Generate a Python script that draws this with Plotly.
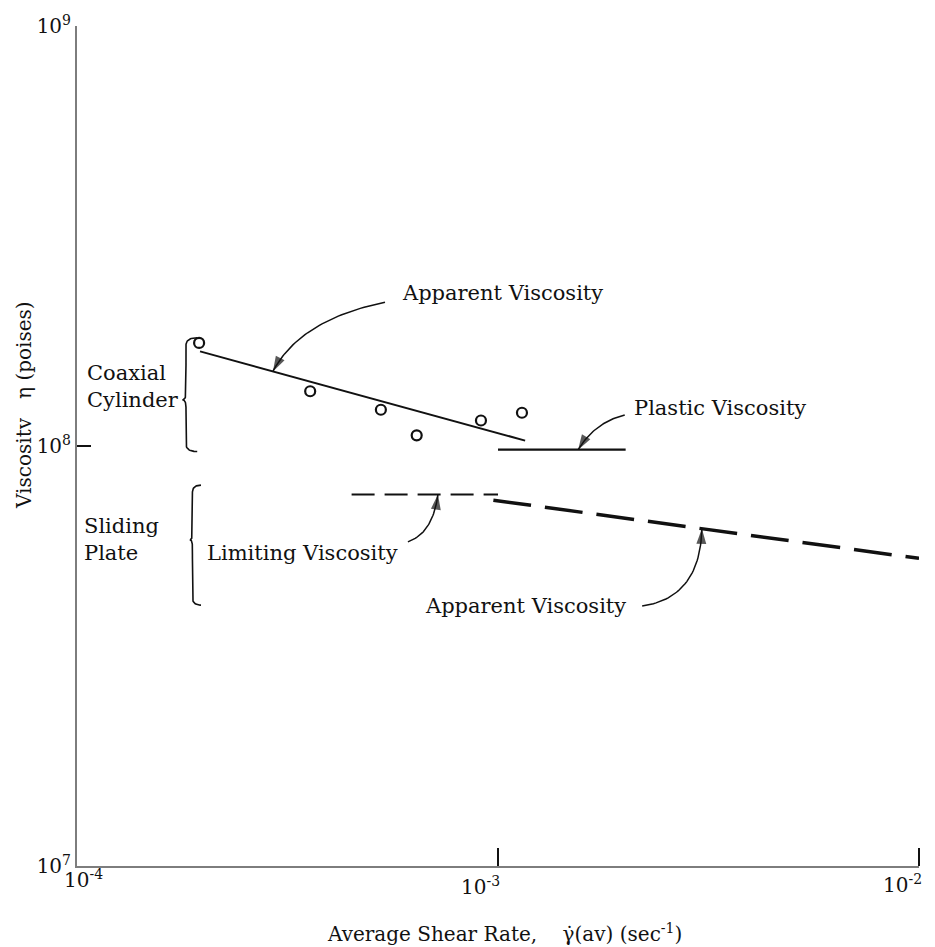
import numpy as np
import plotly.graph_objects as go

# ---- data -----------------------------------------------------------------
# Coaxial cylinder measurements: average shear rate (1/s) vs viscosity (poises)
coax_rate = [1.95e-4, 3.58e-4, 5.27e-4, 6.41e-4, 9.11e-4, 1.14e-3]
coax_visc = [1.76e8, 1.35e8, 1.22e8, 1.06e8, 1.15e8, 1.20e8]

# Coaxial cylinder: apparent viscosity line
coax_apparent_rate = [1.96e-4, 1.16e-3]
coax_apparent_visc = [1.68e8, 1.03e8]

# Coaxial cylinder: plastic viscosity
plastic_rate = [1.0e-3, 2.01e-3]
plastic_visc = [0.98e8, 0.98e8]

# Sliding plate: limiting viscosity
limiting_rate = [4.49e-4, 1.0e-3]
limiting_visc = [7.67e7, 7.67e7]

# Sliding plate: apparent viscosity
plate_apparent_rate = [9.75e-4, 1.0e-2]
plate_apparent_visc = [7.43e7, 5.40e7]

x_tick_vals = [1e-4, 1e-3, 1e-2]
x_tick_text = ["10<sup>-4</sup>", "10<sup>-3</sup>", "10<sup>-2</sup>"]
y_tick_vals = [1e7, 1e8, 1e9]
y_tick_text = ["10<sup>7</sup>", "10<sup>8</sup>", "10<sup>9</sup>"]

# ---- layout constants -----------------------------------------------------
W, H = 935, 947
M = dict(l=77, r=16, t=26, b=81)
X_RANGE = [-4, -2]
Y_RANGE = [7, 9]
PLOT_W = W - M["l"] - M["r"]
PLOT_H = H - M["t"] - M["b"]
X_TICK_LEN, Y_TICK_LEN = 18, 14

FONT = "DejaVu Serif"
INK = "#111111"
AXIS_GRAY = "#7d7d7d"


def on_line(xs, ys, x):
    """Value of a straight log-log segment at rate x."""
    return 10 ** np.interp(np.log10(x), np.log10(xs), np.log10(ys))


def qcurve(p0, c, p1, n=40):
    """Quadratic curve built in log space (straight in screen space)."""
    t = np.linspace(0, 1, n)
    P = [np.log10(p) for p in (p0, c, p1)]
    lx = (1 - t) ** 2 * P[0][0] + 2 * (1 - t) * t * P[1][0] + t ** 2 * P[2][0]
    ly = (1 - t) ** 2 * P[0][1] + 2 * (1 - t) * t * P[1][1] + t ** 2 * P[2][1]
    return 10 ** lx, 10 ** ly


def brace(x_tip, x_mid, x_end, y_lo, y_hi, y_c, bend=0.018):
    """Left-facing curly brace in data coordinates."""
    lt, lm, le = np.log10([x_tip, x_mid, x_end])
    ylo, yhi, yc = np.log10([y_lo, y_hi, y_c])
    segs = [
        ((le, yhi), (lm, yhi), (lm, yhi - bend)),
        ((lm, yhi - bend), (lm, (yhi + yc) / 2), (lm, yc + bend)),
        ((lm, yc + bend), (lm, yc), (lt, yc)),
        ((lt, yc), (lm, yc), (lm, yc - bend)),
        ((lm, yc - bend), (lm, (ylo + yc) / 2), (lm, ylo + bend)),
        ((lm, ylo + bend), (lm, ylo), (le, ylo)),
    ]
    xs, ys = [], []
    t = np.linspace(0, 1, 20)
    for a, b, c in segs:
        xs += list((1 - t) ** 2 * a[0] + 2 * (1 - t) * t * b[0] + t ** 2 * c[0])
        ys += list((1 - t) ** 2 * a[1] + 2 * (1 - t) * t * b[1] + t ** 2 * c[1])
    return 10 ** np.array(xs), 10 ** np.array(ys)


fig = go.Figure()

# fitted / limiting lines
fig.add_trace(go.Scatter(x=coax_apparent_rate, y=coax_apparent_visc, mode="lines",
                         line=dict(color=INK, width=2), hoverinfo="skip"))
fig.add_trace(go.Scatter(x=plastic_rate, y=plastic_visc, mode="lines",
                         line=dict(color=INK, width=2.2), hoverinfo="skip"))
fig.add_trace(go.Scatter(x=limiting_rate, y=limiting_visc, mode="lines",
                         line=dict(color=INK, width=2, dash="23px,10px"), hoverinfo="skip"))
fig.add_trace(go.Scatter(x=plate_apparent_rate, y=plate_apparent_visc, mode="lines",
                         line=dict(color=INK, width=3.5, dash="38px,14px"), hoverinfo="skip"))

# measured points
fig.add_trace(go.Scatter(x=coax_rate, y=coax_visc, mode="markers",
                         marker=dict(symbol="circle-open", size=10, color=INK,
                                     line=dict(width=2.2, color=INK)),
                         hoverinfo="skip"))

# curly braces grouping the two test methods
for bx, by in (brace(1.78e-4, 1.815e-4, 1.93e-4, 0.97e8, 1.81e8, 1.288e8),
               brace(1.855e-4, 1.88e-4, 1.97e-4, 4.18e7, 8.07e7, 5.98e7)):
    fig.add_trace(go.Scatter(x=bx, y=by, mode="lines",
                             line=dict(color=INK, width=1.6), hoverinfo="skip"))

# curved leader arrows: (start, control, tip); head drawn as an oriented marker
arrows = [
    ((5.39e-4, 2.20e8), (3.39e-4, 2.0e8),
     (2.92e-4, float(on_line(coax_apparent_rate, coax_apparent_visc, 2.92e-4)))),
    ((2.0e-3, 1.185e8), (1.70e-3, 1.14e8), (1.55e-3, plastic_visc[0])),
    ((6.11e-4, 5.91e7), (7.01e-4, 6.21e7), (7.20e-4, limiting_visc[0])),
    ((2.2e-3, 4.16e7), (3.02e-3, 4.35e7),
     (3.05e-3, float(on_line(plate_apparent_rate, plate_apparent_visc, 3.05e-3)))),
]
for p0, c, p1 in arrows:
    cx, cy = qcurve(p0, c, p1)
    sizes = [0] * (len(cx) - 1) + [16]
    symbols = ["circle"] * (len(cx) - 1) + ["arrow"]
    fig.add_trace(go.Scatter(x=cx, y=cy, mode="lines+markers",
                             line=dict(color=INK, width=1.5),
                             marker=dict(symbol=symbols, size=sizes, color=INK,
                                         angleref="previous", line=dict(width=0)),
                             hoverinfo="skip"))

annotations = []

# text labels
label_font = dict(family=FONT, size=21, color=INK)
labels = [
    ("Apparent Viscosity", 5.85e-4, 2.314e8),
    ("Plastic Viscosity", 2.08e-3, 1.232e8),
    ("Limiting Viscosity", 2.01e-4, 5.56e7),
    ("Apparent Viscosity", 6.64e-4, 4.16e7),
    ("Coaxial<br>Cylinder", 1.045e-4, 1.386e8),
    ("Sliding<br>Plate", 1.03e-4, 5.99e7),
]
for txt, x, y in labels:
    annotations.append(dict(x=np.log10(x), y=np.log10(y), xref="x", yref="y",
                            text=txt, showarrow=False, xanchor="left",
                            yanchor="middle", align="left", font=label_font))

# x tick labels, nudged like the hand-lettered originals
x_label_shift = [(6, -13), (-18, -20), (-17, -18)]
for v, t, (sx, sy) in zip(x_tick_vals, x_tick_text, x_label_shift):
    annotations.append(dict(x=np.log10(v), y=Y_RANGE[0], xref="x", yref="y",
                            text=t, showarrow=False, xshift=sx, yshift=sy,
                            xanchor="center", yanchor="middle",
                            font=dict(family=FONT, size=20, color=INK)))

# axis titles
annotations.append(dict(
    x=0.508, y=0, xref="paper", yref="paper", yshift=-67,
    xanchor="center", yanchor="middle",
    text="Average Shear Rate,\u00a0\u00a0\u00a0 \u03b3\u0307(av) (sec<sup>-1</sup>)",
    showarrow=False, font=dict(family=FONT, size=20, color=INK)))
annotations.append(dict(
    x=0, y=0.5488, xref="paper", yref="paper", xshift=-53, textangle=-90,
    xanchor="center", yanchor="middle",
    text="Viscositv\u00a0\u00a0\u00a0\u03b7 (poises)", showarrow=False,
    font=dict(family=FONT, size=20, color=INK)))

# x tick at the right end of the range (drawn unclipped at the plot edge)
shapes = []
for v in x_tick_vals:
    px = (np.log10(v) - X_RANGE[0]) / (X_RANGE[1] - X_RANGE[0])
    if px >= 0.999:
        shapes.append(dict(type="line", xref="paper", yref="paper",
                           x0=px, x1=px, y0=0, y1=X_TICK_LEN / PLOT_H,
                           line=dict(color=INK, width=2)))

fig.update_layout(
    width=W, height=H, margin=M, showlegend=False,
    paper_bgcolor="white", plot_bgcolor="white",
    annotations=annotations, shapes=shapes,
    xaxis=dict(type="log", range=X_RANGE, tickvals=x_tick_vals, showticklabels=False,
               ticks="inside", ticklen=X_TICK_LEN, tickwidth=2, tickcolor=INK,
               showgrid=False, zeroline=False, showline=True,
               linecolor=AXIS_GRAY, linewidth=2),
    yaxis=dict(type="log", range=Y_RANGE, tickvals=y_tick_vals, ticktext=y_tick_text,
               ticks="inside", ticklen=Y_TICK_LEN, tickwidth=2, tickcolor=INK,
               tickfont=dict(family=FONT, size=20, color=INK),
               showgrid=False, zeroline=False, showline=True,
               linecolor=AXIS_GRAY, linewidth=2),
)

fig.write_html("out.html")
